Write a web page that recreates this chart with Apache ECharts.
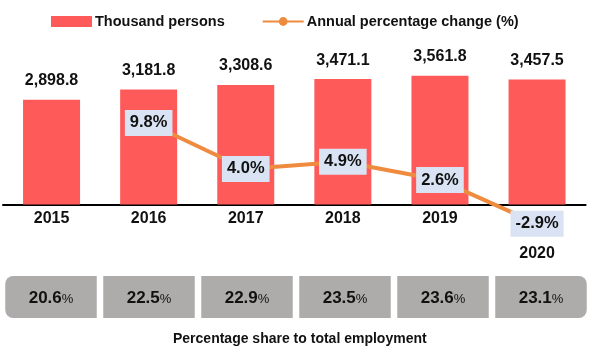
<!DOCTYPE html>
<html>
<head>
<meta charset="utf-8">
<script src="https://cdn.jsdelivr.net/npm/echarts@6/dist/echarts.min.js"></script>
<style>
html,body{margin:0;padding:0;background:#fff;}
#chart{width:590px;height:347px;}
</style>
</head>
<body>
<div id="chart"></div>
<script>
const years = ['2015', '2016', '2017', '2018', '2019', '2020'];
const thousandPersons = [2898.8, 3181.8, 3308.6, 3471.1, 3561.8, 3457.5];
const annualChange = [null, 9.8, 4.0, 4.9, 2.6, -2.9];
const shareOfEmployment = [20.6, 22.5, 22.9, 23.5, 23.6, 23.1];
const shareTitle = 'Percentage share to total employment';

const FONT = "'Liberation Sans', Arial, sans-serif";
const BAR_COLOR = '#FF5A5A';
const LINE_COLOR = '#EE8B3E';
const BOX_COLOR = '#AEABAB';

const fmt = v => v.toLocaleString('en-US', {minimumFractionDigits: 1, maximumFractionDigits: 1});

const chart = echarts.init(document.getElementById('chart'));
chart.setOption({
  animation: false,
  backgroundColor: '#fff',
  textStyle: {fontFamily: FONT},
  legend: {
    left: 51, top: 14, padding: 0,
    itemWidth: 41, itemHeight: 11, itemGap: 37,
    textStyle: {fontFamily: FONT, fontSize: 14.5, fontWeight: 'bold', color: '#111', padding: [0, 0, 0, -2]},
    data: [
      {name: 'Thousand persons', icon: 'rect'},
      {name: 'Annual percentage change (%)'}
    ]
  },
  title: {
    text: shareTitle, left: 168, top: 327,
    textStyle: {fontFamily: FONT, fontSize: 14, fontWeight: 'bold', color: '#111'}
  },
  grid: [
    {left: 3, width: 582.6, top: 60, bottom: 142.5},
    {left: 3, width: 582.6, top: 105.5, bottom: 114.6},
    {left: 2, width: 592, top: 276, height: 42}
  ],
  xAxis: [
    {
      type: 'category', gridIndex: 0, data: years,
      axisLine: {lineStyle: {color: '#000', width: 2}},
      axisTick: {show: false},
      axisLabel: {
        interval: 0, margin: 6, fontFamily: FONT, fontSize: 16, fontWeight: 'bold', color: '#111',
        formatter: (v, i) => i === years.length - 1 ? '{low|' + v + '}' : v,
        rich: {low: {fontFamily: FONT, fontSize: 16, fontWeight: 'bold', color: '#111', padding: [35, 0, 0, 0]}}
      }
    },
    {type: 'category', gridIndex: 1, data: years, show: false},
    {type: 'category', gridIndex: 2, data: years, show: false}
  ],
  yAxis: [
    {type: 'value', gridIndex: 0, min: 0, max: 4000, show: false, splitLine: {show: false}},
    {type: 'value', gridIndex: 1, min: -4, max: 12, show: false, splitLine: {show: false}},
    {type: 'value', gridIndex: 2, min: 0, max: 1, show: false, splitLine: {show: false}}
  ],
  series: [
    {
      name: 'Thousand persons', type: 'bar', xAxisIndex: 0, yAxisIndex: 0,
      data: thousandPersons, barWidth: 57,
      itemStyle: {color: BAR_COLOR},
      label: {
        show: true, position: 'top', distance: 11,
        fontFamily: FONT, fontSize: 16, fontWeight: 'bold', color: '#111',
        formatter: p => fmt(p.value)
      },
      z: 2
    },
    {
      name: 'Annual percentage change (%)', type: 'line', xAxisIndex: 1, yAxisIndex: 1,
      data: annualChange, clip: false,
      lineStyle: {color: LINE_COLOR, width: 4},
      itemStyle: {color: LINE_COLOR},
      symbol: 'circle', symbolSize: 2,
      label: {
        show: true, position: 'inside',
        fontFamily: FONT, fontSize: 16.5, fontWeight: 'bold', color: '#111',
        backgroundColor: '#DAE3F3', padding: [5, 5, 4, 5],
        formatter: p => p.value.toFixed(1) + '%'
      },
      z: 5
    },
    {
      name: 'share', type: 'custom', xAxisIndex: 2, yAxisIndex: 2,
      data: shareOfEmployment.map((v, i) => [i, v]),
      renderItem: (params, api) => {
        const i = api.value(0);
        const cs = params.coordSys;
        const cx = api.coord([i, 0])[0];
        const w = api.size([1, 0])[0] - 6.5;
        const n = years.length;
        const r = i === 0 ? [8, 0, 0, 8] : (i === n - 1 ? [0, 8, 8, 0] : 0);
        return {
          type: 'group',
          children: [
            {type: 'rect', shape: {x: cx - w / 2, y: cs.y, width: w, height: cs.height, r: r}, style: {fill: BOX_COLOR}},
            {type: 'text', style: {
              text: '{a|' + api.value(1).toFixed(1) + '}{b|%}',
              x: cx, y: cs.y + cs.height / 2 + 1, align: 'center', verticalAlign: 'middle',
              rich: {
                a: {fontFamily: FONT, fontSize: 17, fontWeight: 'bold', fill: '#111', color: '#111'},
                b: {fontFamily: FONT, fontSize: 13, fill: '#111', color: '#111', padding: [3, 0, 0, 0]}
              }
            }}
          ]
        };
      }
    }
  ]
});
</script>
</body>
</html>
